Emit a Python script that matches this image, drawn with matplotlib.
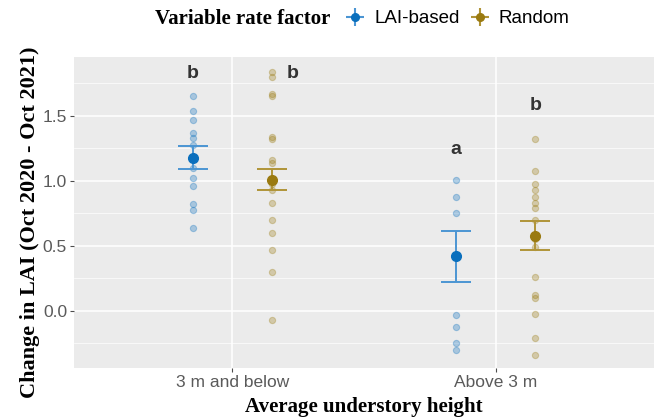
import matplotlib.pyplot as plt
import numpy as np
from matplotlib.lines import Line2D
from matplotlib.legend_handler import HandlerTuple

# data
groups = ['3 m and below', 'Above 3 m']
factors = ['LAI-based', 'Random']

lai_low = [1.65, 1.54, 1.47, 1.37, 1.33, 1.28, 1.10, 1.02, 0.96, 0.82, 0.78, 0.64]
rnd_low = [1.84, 1.80, 1.67, 1.65, 1.34, 1.32, 1.16, 1.14, 0.98, 0.93, 0.83, 0.70,
           0.60, 0.47, 0.30, -0.07]
lai_high = [1.01, 0.88, 0.75, -0.03, -0.12, -0.25, -0.30]
rnd_high = [1.32, 1.08, 0.98, 0.93, 0.88, 0.83, 0.79, 0.70, 0.55, 0.49, 0.26,
            0.12, 0.10, -0.02, -0.21, -0.34]

means = {'LAI-based': [1.18, 0.42], 'Random': [1.01, 0.58]}
errs = {'LAI-based': [0.09, 0.195], 'Random': [0.08, 0.11]}

letters = ['b', 'b', 'a', 'b']
letter_x = [0.85, 1.23, 1.85, 2.15]
letter_y = [1.83, 1.83, 1.24, 1.58]

colors = {'LAI-based': '#0a6fbd', 'Random': '#9a7a10'}
bar_colors = {'LAI-based': '#4b95d3', 'Random': '#b09438'}

raw = {'LAI-based': [lai_low, lai_high], 'Random': [rnd_low, rnd_high]}
offsets = {'LAI-based': -0.15, 'Random': 0.15}

fig = plt.figure(figsize=(6.61, 4.19), dpi=100)
ax = fig.add_axes([0.112, 0.122, 0.877, 0.742])
ax.set_facecolor('#ebebeb')
for s in ax.spines.values():
    s.set_visible(False)

ax.set_xlim(0.4, 2.6)
ax.set_ylim(-0.438, 1.954)
ax.set_yticks([0, 0.5, 1.0, 1.5])
ax.set_yticklabels(['0.0', '0.5', '1.0', '1.5'])
ax.set_yticks([-0.25, 0.25, 0.75, 1.25, 1.75], minor=True)
ax.set_xticks([1, 2])
ax.set_xticklabels(groups)
ax.grid(True, which='major', color='white', linewidth=1.1)
ax.grid(True, which='minor', axis='y', color='white', linewidth=0.5)
ax.set_axisbelow(True)
ax.tick_params(axis='both', which='major', colors='#4d4d4d', labelsize=12.5,
               length=3, width=0.8)
ax.tick_params(axis='both', which='minor', length=0)
ax.tick_params(axis='x', pad=2)
ax.tick_params(axis='y', pad=2)
for lab in ax.get_xticklabels() + ax.get_yticklabels():
    lab.set_family('Liberation Sans')
    lab.set_color('#5a5a5a')

xpos = np.array([1, 2])
for f in factors:
    for i in range(2):
        vals = raw[f][i]
        ax.plot([xpos[i] + offsets[f]] * len(vals), vals, 'o', ms=4.5,
                color=colors[f], alpha=0.3, mec=colors[f], mew=0.8, zorder=2)
    ax.errorbar(xpos + offsets[f], means[f], yerr=errs[f], fmt='none',
                ecolor=bar_colors[f], elinewidth=1.4, capsize=10.5,
                capthick=1.4, zorder=3)
    ax.plot(xpos + offsets[f], means[f], 'o', ms=7, color=colors[f], zorder=4)

for lx, ly, t in zip(letter_x, letter_y, letters):
    ax.text(lx, ly, t, ha='center', va='center', fontsize=14,
            fontweight='bold', color='#333333', family='Liberation Sans')

ax.set_xlabel('Average understory height', family='Liberation Serif',
              fontweight='bold', fontsize=15, labelpad=5)
ax.set_ylabel('Change in LAI (Oct 2020 - Oct 2021)', family='Liberation Serif',
              fontweight='bold', fontsize=16)
ax.yaxis.set_label_coords(-0.058, 0.47)

# legend: title on the left, two keys to its right
fig.text(155 / 661, 0.955, 'Variable rate factor', family='Liberation Serif',
         fontweight='bold', fontsize=15, ha='left', va='center')
handles = []
for f in factors:
    h1 = Line2D([], [], marker='+', ms=13, mew=1.5, color=bar_colors[f], ls='none')
    h2 = Line2D([], [], marker='o', ms=5.5, color=colors[f], ls='none')
    handles.append((h1, h2))
fig.legend(handles, factors, loc='center left', bbox_to_anchor=(346 / 661, 0.955),
           ncol=2, frameon=False,
           handler_map={tuple: HandlerTuple(ndivide=1, pad=0)},
           prop={'family': 'Liberation Sans', 'size': 13.5},
           handlelength=1.0, handletextpad=0.5, columnspacing=0.6,
           borderpad=0, borderaxespad=0)

fig.savefig('out.png', dpi=100)
